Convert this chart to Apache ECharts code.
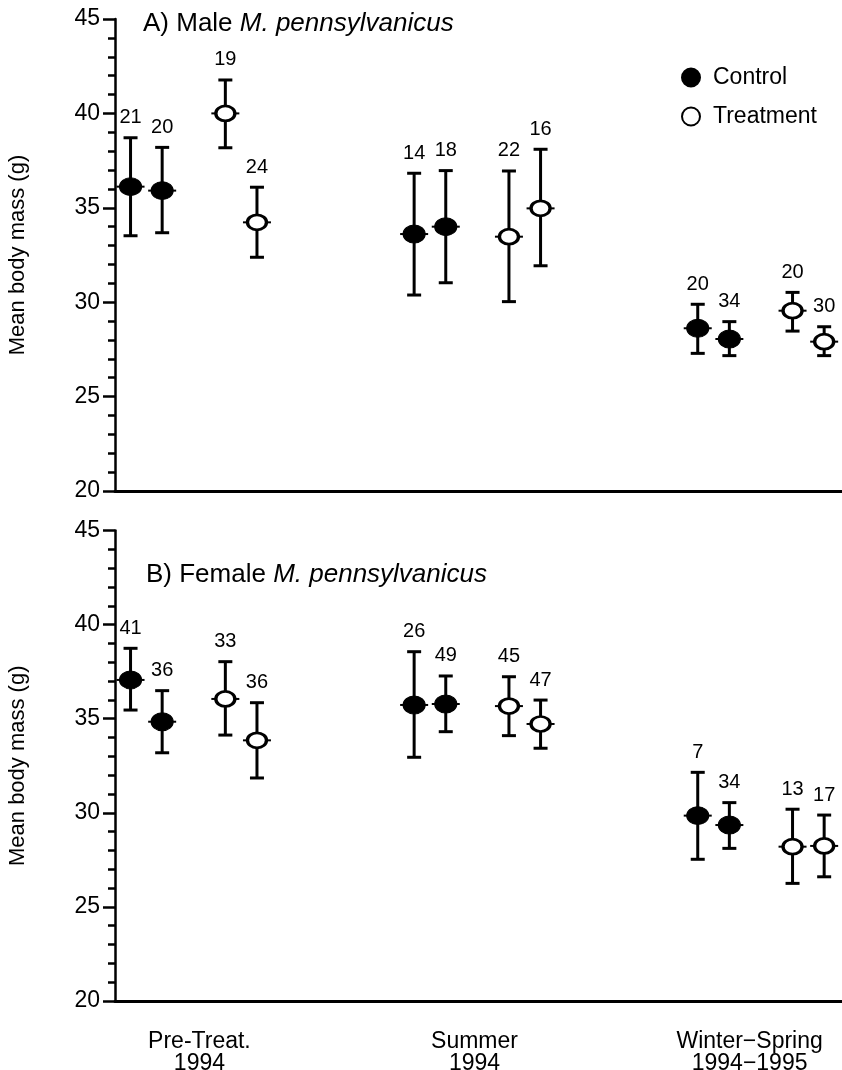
<!DOCTYPE html>
<html>
<head>
<meta charset="utf-8">
<script src="https://cdn.jsdelivr.net/npm/echarts@6/dist/echarts.min.js"></script>
<style>
html,body{margin:0;padding:0;background:#fff;}
#c{width:842px;height:1070px;}
</style>
</head>
<body>
<div id="c"></div>
<script>
// ---- Data ----
const groups = ['Pre-Treat.\n1994', 'Summer\n1994', 'Winter\u2212Spring\n1994\u22121995'];
const groupLabelPos = [1.02, 1.99, 2.96];

// Male: two control samples and two treatment samples per period
const maleControlMean = [36.12, 35.91, 33.61, 34.00, 28.62, 28.05];
const maleControlLow  = [33.52, 33.68, 30.38, 31.03, 27.29, 27.17];
const maleControlHigh = [38.71, 38.20, 36.83, 36.97, 29.89, 28.97];
const maleControlN    = [21, 20, 14, 18, 20, 34];
const maleTreatMean   = [40.00, 34.23, 33.47, 34.97, 29.55, 27.91];
const maleTreatLow    = [38.18, 32.38, 30.03, 31.93, 28.47, 27.17];
const maleTreatHigh   = [41.77, 36.09, 36.95, 38.10, 30.52, 28.70];
const maleTreatN      = [19, 24, 22, 16, 20, 30];

// Female
const femaleControlMean = [37.06, 34.84, 35.73, 35.78, 29.85, 29.35];
const femaleControlLow  = [35.46, 33.19, 32.95, 34.31, 27.53, 28.11];
const femaleControlHigh = [38.74, 36.49, 38.56, 37.27, 32.15, 30.54];
const femaleControlN    = [41, 36, 26, 49, 7, 34];
const femaleTreatMean   = [36.05, 33.85, 35.67, 34.72, 28.20, 28.24];
const femaleTreatLow    = [34.13, 31.85, 34.10, 33.43, 26.25, 26.60];
const femaleTreatHigh   = [38.03, 35.85, 37.23, 35.99, 30.19, 29.88];
const femaleTreatN      = [33, 36, 45, 47, 13, 17];

const yTicks = [20, 25, 30, 35, 40, 45];

// ---- Layout helpers ----
const ctrlOffsets = [-0.2229, -0.1114];
const treatOffsets = [0.1114, 0.2229];
const FONT = 'Liberation Sans, Arial, Helvetica, sans-serif';

function build(mean, low, high, n, offsets) {
  return mean.map((m, i) => {
    const g = Math.floor(i / 2) + 1;
    const x = g + offsets[i % 2];
    return [x, m, low[i], high[i], n[i]];
  });
}

function errRender(params, api) {
  const x = api.value(0), m = api.value(1), lo = api.value(2), hi = api.value(3), n = api.value(4);
  const pHi = api.coord([x, hi]);
  const pLo = api.coord([x, lo]);
  const pM = api.coord([x, m]);
  const st = {stroke: '#000', lineWidth: 3};
  const cap = 7, nub = 14;
  return {
    type: 'group',
    children: [
      {type: 'line', shape: {x1: pHi[0], y1: pHi[1], x2: pLo[0], y2: pLo[1]}, style: st},
      {type: 'line', shape: {x1: pHi[0] - cap, y1: pHi[1], x2: pHi[0] + cap, y2: pHi[1]}, style: st},
      {type: 'line', shape: {x1: pLo[0] - cap, y1: pLo[1], x2: pLo[0] + cap, y2: pLo[1]}, style: st},
      {type: 'line', shape: {x1: pM[0] - nub, y1: pM[1], x2: pM[0] + nub, y2: pM[1]}, style: {stroke: '#000', lineWidth: 2}},
      {type: 'text', style: {x: pHi[0], y: pHi[1] - 10, text: String(n), fill: '#000',
        font: '20px ' + FONT, align: 'center', verticalAlign: 'bottom'}}
    ]
  };
}

const panels = [
  {ctrl: build(maleControlMean, maleControlLow, maleControlHigh, maleControlN, ctrlOffsets),
   treat: build(maleTreatMean, maleTreatLow, maleTreatHigh, maleTreatN, treatOffsets)},
  {ctrl: build(femaleControlMean, femaleControlLow, femaleControlHigh, femaleControlN, ctrlOffsets),
   treat: build(femaleTreatMean, femaleTreatLow, femaleTreatHigh, femaleTreatN, treatOffsets)}
];

const xMin = 0.7223, xMax = 3.2858;

function yAxis(idx) {
  return {
    type: 'value', gridIndex: idx, min: yTicks[0], max: yTicks[yTicks.length - 1], interval: 5,
    name: 'Mean body mass (g)', nameLocation: 'middle', nameGap: 86, nameRotate: 90,
    nameTextStyle: {fontSize: 22, color: '#000', fontFamily: FONT},
    axisLine: {show: true, lineStyle: {color: '#000', width: 2.5}},
    axisTick: {show: true, inside: false, length: 12, lineStyle: {color: '#000', width: 2.5}},
    minorTick: {show: true, splitNumber: 5, length: 7, lineStyle: {color: '#000', width: 2.5}},
    splitLine: {show: false}, minorSplitLine: {show: false},
    axisLabel: {fontSize: 23, color: '#000', margin: 15, fontFamily: FONT}
  };
}
function xAxis(idx, showLabels) {
  return {
    type: 'value', gridIndex: idx, min: xMin, max: xMax,
    axisLine: {show: true, onZero: false, lineStyle: {color: '#000', width: 3}},
    axisTick: {show: false}, splitLine: {show: false},
    axisLabel: showLabels ? {
      show: true, customValues: groupLabelPos, fontSize: 23, lineHeight: 22, color: '#000',
      margin: 30, fontFamily: FONT,
      formatter: function (v) {
        let best = 0, d = 1e9;
        groupLabelPos.forEach((p, i) => { if (Math.abs(p - v) < d) { d = Math.abs(p - v); best = i; } });
        return groups[best];
      }
    } : {show: false}
  };
}

const series = [];
panels.forEach((p, idx) => {
  series.push({type: 'custom', xAxisIndex: idx, yAxisIndex: idx, renderItem: errRender, data: p.ctrl, z: 2, silent: true});
  series.push({type: 'custom', xAxisIndex: idx, yAxisIndex: idx, renderItem: errRender, data: p.treat, z: 2, silent: true});
  series.push({name: 'Control', type: 'scatter', xAxisIndex: idx, yAxisIndex: idx, z: 3,
    symbol: 'circle', symbolSize: [22, 18],
    itemStyle: {color: '#000', borderColor: '#000', borderWidth: 1, opacity: 1},
    data: p.ctrl.map(d => [d[0], d[1]])});
  series.push({name: 'Treatment', type: 'scatter', xAxisIndex: idx, yAxisIndex: idx, z: 3,
    symbol: 'circle', symbolSize: [19, 15],
    itemStyle: {color: '#fff', borderColor: '#000', borderWidth: 3, opacity: 1},
    data: p.treat.map(d => [d[0], d[1]])});
});

const titleRich = {
  a: {fontSize: 26, fontFamily: FONT, fontWeight: 'normal', color: '#000'},
  b: {fontSize: 26, fontFamily: FONT, fontStyle: 'italic', fontWeight: 'normal', color: '#000'}
};

const chart = echarts.init(document.getElementById('c'), null, {renderer: 'canvas'});
chart.setOption({
  animation: false,
  backgroundColor: '#fff',
  textStyle: {fontFamily: FONT, color: '#000'},
  title: [
    {text: '{a|A) Male }{b|M. pennsylvanicus}', left: 138, top: 6,
     textStyle: {fontWeight: 'normal', rich: titleRich}},
    {text: '{a|B) Female }{b|M. pennsylvanicus}', left: 141, top: 557,
     textStyle: {fontWeight: 'normal', rich: titleRich}}
  ],
  legend: {
    orient: 'vertical', left: 676, top: 61, itemGap: 16, itemWidth: 18, itemHeight: 18,
    icon: 'circle', data: ['Control', 'Treatment'],
    textStyle: {fontSize: 23, color: '#000', fontFamily: FONT, padding: [0, 0, 0, 8]}, selectedMode: false
  },
  grid: [
    {left: 115, top: 19, width: 727, height: 472, outerBoundsMode: 'none'},
    {left: 115, top: 530.5, width: 727, height: 470.5, outerBoundsMode: 'none'}
  ],
  xAxis: [xAxis(0, false), xAxis(1, true)],
  yAxis: [yAxis(0), yAxis(1)],
  series: series
});
</script>
</body>
</html>
